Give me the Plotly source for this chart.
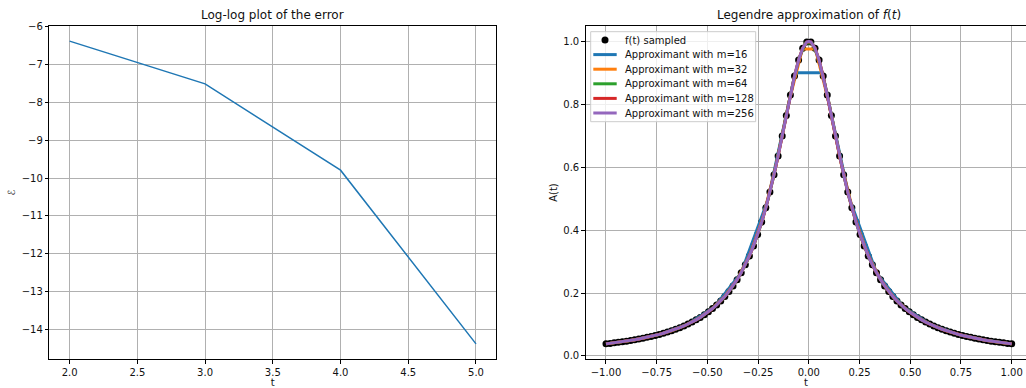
import plotly.graph_objects as go

# ---------------- data ----------------
# left panel: log-log error
err_x = [2.0, 3.0, 4.0, 5.0]
err_y = [-6.38, -7.51, -9.79, -14.38]

# right panel: sampled f(t)
sample_t = [-1.0, -0.9798, -0.9596, -0.93939, -0.91919, -0.89899, -0.87879, -0.85859, -0.83838, -0.81818,
            -0.79798, -0.77778, -0.75758, -0.73737, -0.71717, -0.69697, -0.67677, -0.65657, -0.63636, -0.61616,
            -0.59596, -0.57576, -0.55556, -0.53535, -0.51515, -0.49495, -0.47475, -0.45455, -0.43434, -0.41414,
            -0.39394, -0.37374, -0.35354, -0.33333, -0.31313, -0.29293, -0.27273, -0.25253, -0.23232, -0.21212,
            -0.19192, -0.17172, -0.15152, -0.13131, -0.11111, -0.09091, -0.07071, -0.05051, -0.0303, -0.0101,
            0.0101, 0.0303, 0.05051, 0.07071, 0.09091, 0.11111, 0.13131, 0.15152, 0.17172, 0.19192,
            0.21212, 0.23232, 0.25253, 0.27273, 0.29293, 0.31313, 0.33333, 0.35354, 0.37374, 0.39394,
            0.41414, 0.43434, 0.45455, 0.47475, 0.49495, 0.51515, 0.53535, 0.55556, 0.57576, 0.59596,
            0.61616, 0.63636, 0.65657, 0.67677, 0.69697, 0.71717, 0.73737, 0.75758, 0.77778, 0.79798,
            0.81818, 0.83838, 0.85859, 0.87879, 0.89899, 0.91919, 0.93939, 0.9596, 0.9798, 1.0]
sample_f = [0.03846, 0.04, 0.04163, 0.04336, 0.0452, 0.04716, 0.04924, 0.05147, 0.05384, 0.05638,
            0.0591, 0.06202, 0.06515, 0.06853, 0.07216, 0.07608, 0.08032, 0.08491, 0.0899, 0.09532,
            0.10122, 0.10767, 0.11473, 0.12247, 0.13098, 0.14036, 0.15072, 0.1622, 0.17494, 0.18911,
            0.20493, 0.22262, 0.24244, 0.26471, 0.28975, 0.31794, 0.34971, 0.38546, 0.42564, 0.47061,
            0.52061, 0.57565, 0.63536, 0.69877, 0.76415, 0.82877, 0.8889, 0.94005, 0.97756, 0.99746,
            0.99746, 0.97756, 0.94005, 0.8889, 0.82877, 0.76415, 0.69877, 0.63536, 0.57565, 0.52061,
            0.47061, 0.42564, 0.38546, 0.34971, 0.31794, 0.28975, 0.26471, 0.24244, 0.22262, 0.20493,
            0.18911, 0.17494, 0.1622, 0.15072, 0.14036, 0.13098, 0.12247, 0.11473, 0.10767, 0.10122,
            0.09532, 0.0899, 0.08491, 0.08032, 0.07608, 0.07216, 0.06853, 0.06515, 0.06202, 0.0591,
            0.05638, 0.05384, 0.05147, 0.04924, 0.04716, 0.0452, 0.04336, 0.04163, 0.04, 0.03846]

# approximant m=16
m16_t = [-1.0, -0.86667, -0.73333, -0.6, -0.46667, -0.33333, -0.2, -0.06667,
         0.06667, 0.2, 0.33333, 0.46667, 0.6, 0.73333, 0.86667, 1.0]
m16_v = [0.03846, 0.05056, 0.06923, 0.1, 0.15517, 0.26471, 0.5, 0.9,
         0.9, 0.5, 0.26471, 0.15517, 0.1, 0.06923, 0.05056, 0.03846]

# approximant m=32
m32_t = [-1.0, -0.93548, -0.87097, -0.80645, -0.74194, -0.67742, -0.6129, -0.54839,
         -0.48387, -0.41935, -0.35484, -0.29032, -0.22581, -0.16129, -0.09677, -0.03226,
         0.03226, 0.09677, 0.16129, 0.22581, 0.29032, 0.35484, 0.41935, 0.48387,
         0.54839, 0.6129, 0.67742, 0.74194, 0.80645, 0.87097, 0.93548, 1.0]
m32_v = [0.03846, 0.04371, 0.05009, 0.05794, 0.06774, 0.08018, 0.09623, 0.1174,
         0.14592, 0.18531, 0.2411, 0.32183, 0.43962, 0.60593, 0.81029, 0.97465,
         0.97465, 0.81029, 0.60593, 0.43962, 0.32183, 0.2411, 0.18531, 0.14592,
         0.1174, 0.09623, 0.08018, 0.06774, 0.05794, 0.05009, 0.04371, 0.03846]

# approximant m=64
m64_t = [-1.0, -0.96825, -0.93651, -0.90476, -0.87302, -0.84127, -0.80952, -0.77778,
         -0.74603, -0.71429, -0.68254, -0.65079, -0.61905, -0.5873, -0.55556, -0.52381,
         -0.49206, -0.46032, -0.42857, -0.39683, -0.36508, -0.33333, -0.30159, -0.26984,
         -0.2381, -0.20635, -0.1746, -0.14286, -0.11111, -0.07937, -0.04762, -0.01587,
         0.01587, 0.04762, 0.07937, 0.11111, 0.14286, 0.1746, 0.20635, 0.2381,
         0.26984, 0.30159, 0.33333, 0.36508, 0.39683, 0.42857, 0.46032, 0.49206,
         0.52381, 0.55556, 0.5873, 0.61905, 0.65079, 0.68254, 0.71429, 0.74603,
         0.77778, 0.80952, 0.84127, 0.87302, 0.90476, 0.93651, 0.96825, 1.0]
m64_v = [0.03846, 0.04092, 0.04362, 0.04659, 0.04987, 0.0535, 0.05753, 0.06202,
         0.06705, 0.0727, 0.07907, 0.08629, 0.09451, 0.10392, 0.11473, 0.12724,
         0.14178, 0.1588, 0.17883, 0.20256, 0.23083, 0.26471, 0.30545, 0.35457,
         0.4137, 0.48438, 0.56749, 0.66216, 0.76415, 0.86396, 0.94635, 0.99374,
         0.99374, 0.94635, 0.86396, 0.76415, 0.66216, 0.56749, 0.48438, 0.4137,
         0.35457, 0.30545, 0.26471, 0.23083, 0.20256, 0.17883, 0.1588, 0.14178,
         0.12724, 0.11473, 0.10392, 0.09451, 0.08629, 0.07907, 0.0727, 0.06705,
         0.06202, 0.05753, 0.0535, 0.04987, 0.04659, 0.04362, 0.04092, 0.03846]

# approximants m=128 and m=256 (peak added)
fine_t = sample_t[:50] + [0.0] + sample_t[50:]
m128_v = sample_f[:50] + [0.9985] + sample_f[50:]
m256_v = sample_f[:50] + [0.9996] + sample_f[50:]

colors = ["#1f77b4", "#ff7f0e", "#2ca02c", "#d62728", "#9467bd"]
m_labels = ["16", "32", "64", "128", "256"]
approx = [(m16_t, m16_v), (m32_t, m32_v), (m64_t, m64_v), (fine_t, m128_v), (fine_t, m256_v)]

# ---------------- figure ----------------
FONT = "DejaVu Sans"
TXT = "#111111"
fig = go.Figure()

fig.add_trace(go.Scatter(x=err_x, y=err_y, mode="lines", line=dict(color="#1f77b4", width=1.5),
                         xaxis="x", yaxis="y", showlegend=False))

fig.add_trace(go.Scatter(x=sample_t, y=sample_f, mode="markers", name="f(t) sampled",
                         marker=dict(color="black", size=7), xaxis="x2", yaxis="y2", showlegend=False))
for (tt, vv), m, c in zip(approx, m_labels, colors):
    fig.add_trace(go.Scatter(x=tt, y=vv, mode="lines", name="Approximant with m=" + m,
                             line=dict(color=c, width=3), xaxis="x2", yaxis="y2", showlegend=False))

W, H = 1026, 388
ML, MR, MT, MB = 0, 0, 26, 29
PH = H - MT - MB


def px(x):
    return x / W


def py(y):
    return (H - MB - y) / PH


axcommon = dict(showgrid=True, gridcolor="#b0b0b0", gridwidth=0.8, zeroline=False,
                showline=True, linecolor="black", linewidth=1, ticks="outside", ticklen=3.5,
                tickwidth=0.8, tickcolor="black", tickfont=dict(family=FONT, size=10, color=TXT))

# manual matplotlib-style legend (box, handles, labels)
shapes = []
annotations = []
shapes.append(dict(type="rect", xref="paper", yref="paper", x0=px(590.7), x1=px(755.7), y0=py(121.7), y1=py(31.7),
                   line=dict(color="#cccccc", width=1), fillcolor="rgba(255,255,255,0.8)", layer="above"))
rows = [40.0, 54.6, 69.2, 83.8, 98.4, 113.0]
shapes.append(dict(type="circle", xref="paper", yref="paper", x0=px(605 - 3.5), x1=px(605 + 3.5),
                   y0=py(rows[0] + 3.5), y1=py(rows[0] - 3.5), fillcolor="black", line=dict(width=0),
                   layer="above"))
legend_texts = ["f(t) sampled"] + ["Approximant with m=" + m for m in m_labels]
for i, (yy, txt) in enumerate(zip(rows, legend_texts)):
    if i > 0:
        shapes.append(dict(type="line", xref="paper", yref="paper", x0=px(593.3), x1=px(616.7),
                           y0=py(yy), y1=py(yy), line=dict(color=colors[i - 1], width=3), layer="above"))
    annotations.append(dict(text=txt, x=px(622.5), y=py(yy), xref="paper", yref="paper", xanchor="left",
                            yanchor="middle", showarrow=False, font=dict(family=FONT, size=10, color=TXT)))

annotations += [
    dict(text="Log-log plot of the error", x=(49.3 + 496.3) / 2 / W, y=1.0, xref="paper", yref="paper",
         xanchor="center", yanchor="bottom", yshift=2, showarrow=False, font=dict(family=FONT, size=12, color=TXT)),
    dict(text="Legendre approximation of <i>f</i>(<i>t</i>)", x=(585.7 + 1032) / 2 / W, y=1.0,
         xref="paper", yref="paper", xanchor="center", yanchor="bottom", yshift=2, showarrow=False,
         font=dict(family=FONT, size=12, color=TXT)),
]

fig.update_layout(
    width=W, height=H, margin=dict(l=ML, r=MR, t=MT, b=MB, autoexpand=False),
    paper_bgcolor="white", plot_bgcolor="white",
    font=dict(family=FONT, size=10, color=TXT),
    xaxis=dict(domain=[49.3 / W, 496.3 / W], range=[1.85, 5.15], tickvals=[2.0, 2.5, 3.0, 3.5, 4.0, 4.5, 5.0],
               ticktext=["2.0", "2.5", "3.0", "3.5", "4.0", "4.5", "5.0"], mirror=True,
               title=dict(text="t", font=dict(family=FONT, size=10), standoff=5), anchor="y", **axcommon),
    yaxis=dict(range=[-14.78, -5.98], tickvals=[-6, -7, -8, -9, -10, -11, -12, -13, -14], mirror=True,
               title=dict(text="ℰ", font=dict(family=FONT, size=10), standoff=4), anchor="x", **axcommon),
    xaxis2=dict(domain=[585.7 / W, 1.0], range=[-1.1, 1.0705],
                tickvals=[-1.0, -0.75, -0.5, -0.25, 0.0, 0.25, 0.5, 0.75, 1.0],
                ticktext=["−1.00", "−0.75", "−0.50", "−0.25", "0.00", "0.25", "0.50", "0.75", "1.00"],
                mirror=True, title=dict(text="t", font=dict(family=FONT, size=10), standoff=5), anchor="y2",
                **axcommon),
    yaxis2=dict(range=[-0.0096, 1.0481], tickvals=[0.0, 0.2, 0.4, 0.6, 0.8, 1.0],
                ticktext=["0.0", "0.2", "0.4", "0.6", "0.8", "1.0"],
                title=dict(text="A(t)", font=dict(family=FONT, size=10), standoff=3), anchor="x2", **axcommon),
    showlegend=False,
    shapes=shapes,
    annotations=annotations,
)

fig.write_html("out.html", config={"displayModeBar": False},
               post_script="document.body.style.margin='0';document.body.style.padding='0';")
